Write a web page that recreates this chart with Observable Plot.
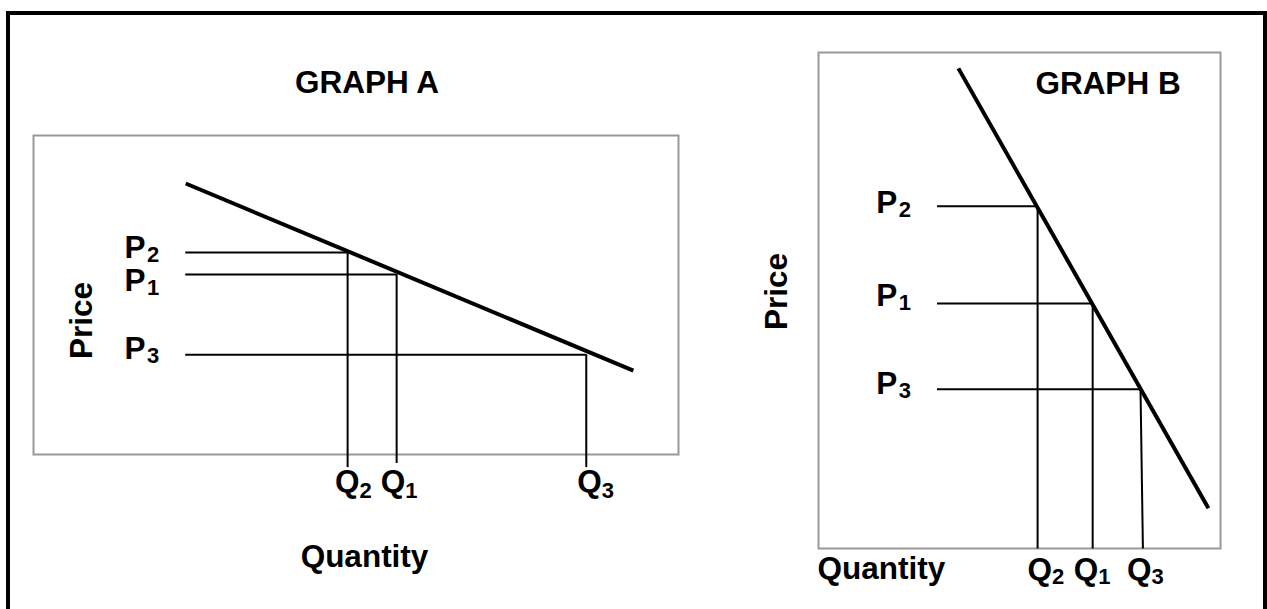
<!DOCTYPE html>
<html><head><meta charset="utf-8">
<script src="https://cdn.jsdelivr.net/npm/d3@7"></script>
<script src="https://cdn.jsdelivr.net/npm/@observablehq/plot@0.6"></script>
<style>
html,body{margin:0;padding:0;background:#fff;overflow:hidden}
#page{position:relative;width:1267px;height:609px;overflow:hidden;background:#fff}
#border{position:absolute;left:6px;top:11px;width:1261px;height:700px;box-sizing:border-box;border:4px solid #000;}
#a,#b{position:absolute;top:0}
#a{left:0}
#b{left:700px}
</style></head><body>
<div id="page"><div id="border"></div><div id="a"></div><div id="b"></div></div>
<script>
// ---------------- data ----------------
// index order: 0 -> P1/Q1, 1 -> P2/Q2, 2 -> P3/Q3
const subscripts = ["1", "2", "3"];
const titles = ["GRAPH A", "GRAPH B"];
const axisNames = ["Price", "Quantity"];

// Graph A (relative units 0..100 inside the box)
const aPrice = [56.4, 63.3, 31.3];
const aQuantity = [56.3, 48.7, 85.7];
const aQuantityEnd = [-2.8, -4.1, -4.1];
const aDemandQ = [23.6, 93.0];
const aDemandP = [84.95, 26.3];

// Graph B
const bPrice = [49.4, 69.0, 32.1];
const bQuantity = [68.2, 54.5, 80.1];      // where the guide meets the demand curve
const bQuantityAxis = [68.2, 54.5, 80.7];  // where the guide meets the quantity axis
const bGuideStart = 29.6;
const bDemandQ = [34.8, 97.0];
const bDemandP = [96.8, 8.1];

// ---------------- styles ----------------
const FONT = "'Liberation Sans', Arial, Helvetica, sans-serif";
const big = {fontSize: 31.5, fontWeight: "bold", fill: "#000", fontFamily: FONT};
const small = {fontSize: 22, fontWeight: "bold", fill: "#000", fontFamily: FONT};
const idx = [0, 1, 2];

function priceLabels(prices, dx, dys) {
  return idx.flatMap(i => [
    Plot.text([prices[i]], {y: d => d, text: () => "P", frameAnchor: "left", textAnchor: "start", lineAnchor: "bottom", dx, dy: dys[i], ...big}),
    Plot.text([prices[i]], {y: d => d, text: () => subscripts[i], frameAnchor: "left", textAnchor: "start", lineAnchor: "bottom", dx: dx + 22.5, dy: dys[i] + 4, ...small})
  ]);
}
function quantityLabels(qs, dxs, dy, subDy) {
  return idx.flatMap(i => [
    Plot.text([qs[i]], {x: d => d, text: () => "Q", frameAnchor: "bottom", textAnchor: "start", lineAnchor: "bottom", dx: dxs[i], dy, ...big}),
    Plot.text([qs[i]], {x: d => d, text: () => subscripts[i], frameAnchor: "bottom", textAnchor: "start", lineAnchor: "bottom", dx: dxs[i] + 24.5, dy: dy + subDy, ...small})
  ]);
}

const demandA = aDemandQ.map((q, i) => ({q, p: aDemandP[i]}));
const demandB = bDemandQ.map((q, i) => ({q, p: bDemandP[i]}));

// ---------------- Graph A ----------------
const plotA = Plot.plot({
  width: 700, height: 609,
  marginLeft: 33, marginRight: 22, marginTop: 135, marginBottom: 155,
  x: {domain: [0, 100], axis: null},
  y: {domain: [0, 100], axis: null},
  style: {fontFamily: FONT, background: "none", overflow: "visible"},
  marks: [
    Plot.frame({stroke: "#999", strokeWidth: 2}),
    Plot.ruleY(idx, {y: i => aPrice[i], x1: aDemandQ[0], x2: i => aQuantity[i], stroke: "#000", strokeWidth: 2}),
    Plot.ruleX(idx, {x: i => aQuantity[i], y1: i => aPrice[i], y2: i => aQuantityEnd[i], stroke: "#000", strokeWidth: 2}),
    Plot.line(demandA, {x: "q", y: "p", stroke: "#000", strokeWidth: 4, strokeLinecap: "butt"}),
    ...priceLabels(aPrice, 91, [16, 5, 4]),
    ...quantityLabels(aQuantity, [-16, -12.5, -9], 37, 6),
    Plot.text([titles[0]], {frameAnchor: "top", textAnchor: "middle", lineAnchor: "bottom", dx: 11, dy: -43, ...big}),
    Plot.text([axisNames[0]], {frameAnchor: "left", rotate: -90, textAnchor: "middle", lineAnchor: "middle", dx: 48, dy: 25.5, ...big}),
    Plot.text([axisNames[1]], {frameAnchor: "bottom", textAnchor: "middle", lineAnchor: "bottom", dx: 8.5, dy: 112, ...big})
  ]
});
document.getElementById("a").append(plotA);

// ---------------- Graph B ----------------
const plotB = Plot.plot({
  width: 567, height: 609,
  marginLeft: 118, marginRight: 47, marginTop: 52, marginBottom: 61,
  x: {domain: [0, 100], axis: null},
  y: {domain: [0, 100], axis: null},
  style: {fontFamily: FONT, background: "none", overflow: "visible"},
  marks: [
    Plot.frame({stroke: "#999", strokeWidth: 2}),
    Plot.ruleY(idx, {y: i => bPrice[i], x1: bGuideStart, x2: i => bQuantity[i], stroke: "#000", strokeWidth: 2}),
    Plot.link(idx, {x1: i => bQuantity[i], y1: i => bPrice[i], x2: i => bQuantityAxis[i], y2: 0, stroke: "#000", strokeWidth: 2}),
    Plot.line(demandB, {x: "q", y: "p", stroke: "#000", strokeWidth: 4, strokeLinecap: "butt"}),
    ...priceLabels(bPrice, 57.7, [3, 7, 5]),
    ...quantityLabels(bQuantityAxis, [-19, -10, -16], 31, 4),
    Plot.text([titles[1]], {frameAnchor: "top", textAnchor: "middle", lineAnchor: "bottom", dx: 88.5, dy: 41, ...big}),
    Plot.text([axisNames[0]], {frameAnchor: "left", rotate: -90, textAnchor: "middle", lineAnchor: "middle", dx: -42, dy: -9, ...big}),
    Plot.text([axisNames[1]], {frameAnchor: "bottom-left", textAnchor: "start", lineAnchor: "bottom", dx: -1, dy: 30, ...big})
  ]
});
document.getElementById("b").append(plotB);
</script>
</body></html>
